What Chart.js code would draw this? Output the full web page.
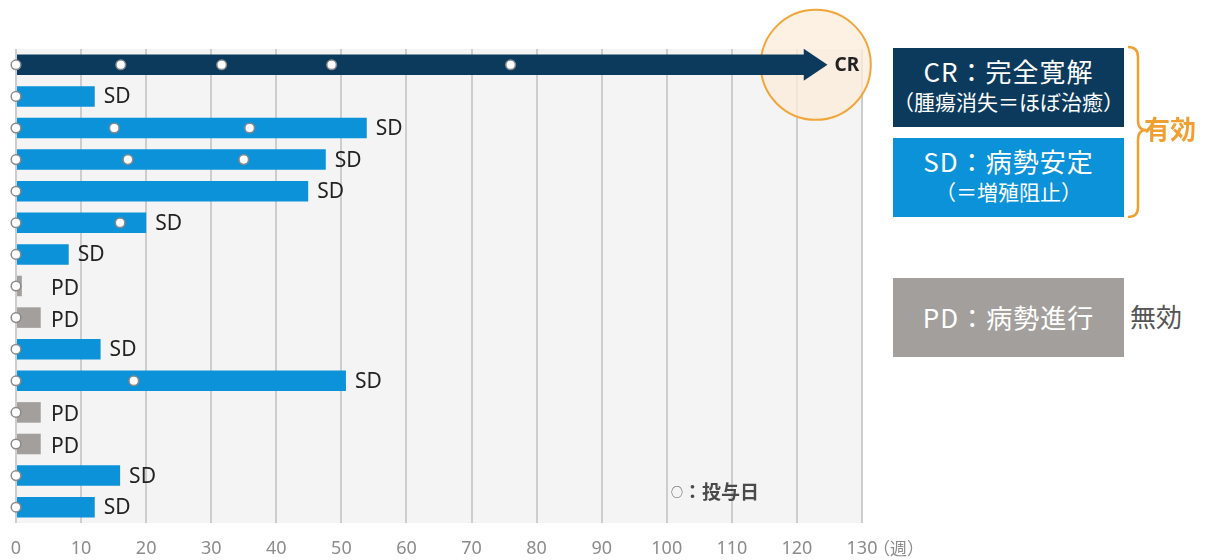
<!DOCTYPE html>
<html lang="ja">
<head>
<meta charset="utf-8">
<script src="https://cdn.jsdelivr.net/npm/chart.js@4/dist/chart.umd.min.js"></script>
<style>
  body { margin: 0; width: 1208px; height: 560px; position: relative; background: #fff; overflow: hidden;
         font-family: "Noto Sans CJK JP", "Noto Sans", sans-serif; }
  #wrap { position: absolute; left: 0; top: 0; width: 900px; height: 577px; }
  .box { position: absolute; left: 893px; width: 231px; height: 79px; color: #fff; text-align: center; }
  .box .big { font-size: 26px; line-height: 30px; letter-spacing: 1px; }
  .box .small { font-size: 21px; line-height: 24px; }
  .side { position: absolute; font-size: 26px; line-height: 30px; }
  #unit { position: absolute; left: 873px; top: 536px; font-size: 17px; line-height: 24px; color: #8c8c8c; }
  #dose { position: absolute; left: 671px; top: 478px; font-size: 19px; line-height: 26px; color: #4a4a4a; font-weight: bold; }
  #dose .o { font-size: 12px; font-weight: normal; vertical-align: 2px; }
</style>
</head>
<body>
<div id="wrap"><canvas id="chart"></canvas></div>

<div class="box" style="top:48px;background:#0c3a5d;">
  <div class="big" style="padding-top:8px;">CR：完全寛解</div>
  <div class="small" style="padding-top:3px;">（腫瘍消失＝ほぼ治癒）</div>
</div>
<div class="box" style="top:138px;background:#0b92d8;">
  <div class="big" style="padding-top:8px;">SD：病勢安定</div>
  <div class="small" style="padding-top:3px;">（＝増殖阻止）</div>
</div>
<div class="box" style="top:278px;background:#a39f9c;">
  <div class="big" style="padding-top:24px;">PD：病勢進行</div>
</div>
<svg style="position:absolute;left:1120px;top:40px;" width="40" height="190">
  <path d="M8 7 Q18 7 18 17 L18 80 Q18 90 26 90 Q18 90 18 100 L18 167 Q18 177 8 177"
        fill="none" stroke="#f0a032" stroke-width="2.5"/>
</svg>
<div class="side" style="left:1144px;top:113px;color:#f0a032;font-weight:bold;">有効</div>
<div class="side" style="left:1130px;top:301px;color:#555;">無効</div>
<div id="unit">（週）</div>
<div id="dose"><span class="o">○</span>：投与日</div>

<script>
  // one row per patient, top to bottom
  const rows = ["1", "2", "3", "4", "5", "6", "7", "8", "9", "10", "11", "12", "13", "14", "15"];
  const status = ["CR", "SD", "SD", "SD", "SD", "SD", "SD", "PD", "PD", "SD", "SD", "PD", "PD", "SD", "SD"];
  const weeks = [121.2, 12.1, 53.9, 47.6, 44.9, 20.0, 8.1, 0.9, 3.8, 13.0, 50.7, 3.8, 3.8, 16.0, 12.1];
  const crArrowTip = 124.7;

  // dosing days (week, row)
  const doseRow = ["1", "1", "1", "1", "1", "2", "3", "3", "3", "4", "4", "4", "5", "6", "6", "7", "8", "9",
                   "10", "11", "11", "12", "13", "14", "15"];
  const doseWeek = [0, 16.1, 31.6, 48.5, 76.0, 0, 0, 15.1, 35.9, 0, 17.2, 35.0, 0, 0, 16.0, 0, 0, 0,
                    0, 0, 18.1, 0, 0, 0, 0];

  const xTicks = [0, 130, 10];

  const COLORS = { CR: "#0c3a5d", SD: "#0b92d8", PD: "#a39f9c" };

  const plotBg = {
    id: "plotBg",
    beforeDraw(chart) {
      const { ctx, chartArea: a } = chart;
      ctx.save();
      ctx.fillStyle = "#f4f4f4";
      ctx.fillRect(a.left, a.top, a.right - a.left, a.bottom - a.top);
      ctx.restore();
    },
  };

  // orange highlight circle around the CR arrow tip
  const crCircle = {
    id: "crCircle",
    beforeDatasetsDraw(chart) {
      const { ctx, scales } = chart;
      const cx = scales.x.getPixelForValue(122.9);
      const cy = scales.y.getPixelForValue(0);
      ctx.save();
      ctx.beginPath();
      ctx.arc(cx, cy, 55, 0, Math.PI * 2);
      ctx.fillStyle = "rgba(251,236,216,0.75)";
      ctx.fill();
      ctx.lineWidth = 2;
      ctx.strokeStyle = "#f2a63a";
      ctx.stroke();
      ctx.restore();
    },
  };

  const barLabels = {
    id: "barLabels",
    afterDatasetsDraw(chart) {
      const { ctx, scales } = chart;
      const meta = chart.getDatasetMeta(1);
      const x0 = scales.x.getPixelForValue(0);
      ctx.save();
      ctx.textBaseline = "middle";
      ctx.fillStyle = "#222";
      meta.data.forEach((bar, i) => {
        const s = status[i];
        if (s === "CR") {
          const tip = scales.x.getPixelForValue(crArrowTip);
          ctx.beginPath();
          ctx.moveTo(bar.x - 1, bar.y - 16);
          ctx.lineTo(tip, bar.y);
          ctx.lineTo(bar.x - 1, bar.y + 16);
          ctx.closePath();
          ctx.fillStyle = COLORS.CR;
          ctx.fill();
          ctx.fillStyle = "#222";
          ctx.font = "bold 19px 'Noto Sans', sans-serif";
          ctx.fillText("CR", tip + 7, bar.y + 1);
        } else {
          ctx.font = "21px 'Noto Sans', sans-serif";
          const x = s === "PD" ? Math.max(bar.x + 10, x0 + 35) : bar.x + 9;
          ctx.fillText(s, x, bar.y + (s === "PD" ? 3 : 1));
        }
      });
      ctx.restore();
    },
  };

  new Chart(document.getElementById("chart"), {
    type: "bar",
    data: {
      labels: rows,
      datasets: [
        {
          type: "scatter",
          data: doseWeek.map((w, i) => ({ x: w, y: doseRow[i] })),
          pointRadius: 4.8,
          pointBackgroundColor: "#fff",
          pointBorderColor: "#8a8a8a",
          pointBorderWidth: 1.5,
          clip: false,
          order: 1,
        },
        {
          data: weeks,
          backgroundColor: status.map(s => COLORS[s]),
          barPercentage: 0.65,
          categoryPercentage: 1,
          order: 2,
        },
      ],
    },
    options: {
      indexAxis: "y",
      responsive: true,
      maintainAspectRatio: false,
      animation: false,
      layout: { autoPadding: false, padding: { left: 16, right: 38, top: 49, bottom: 2 } },
      plugins: { legend: { display: false }, tooltip: { enabled: false } },
      scales: {
        y: { type: "category", display: false, offset: true, grid: { display: false } },
        x: {
          type: "linear",
          min: xTicks[0],
          max: xTicks[1],
          border: { display: false },
          grid: { color: "#cdcdcd", lineWidth: 2, drawTicks: false },
          ticks: { stepSize: xTicks[2], padding: 9, color: "#8c8c8c",
                   font: { size: 18, lineHeight: "34px", family: "'Noto Sans', sans-serif" } },
        },
      },
    },
    plugins: [plotBg, crCircle, barLabels],
  });
</script>
</body>
</html>
